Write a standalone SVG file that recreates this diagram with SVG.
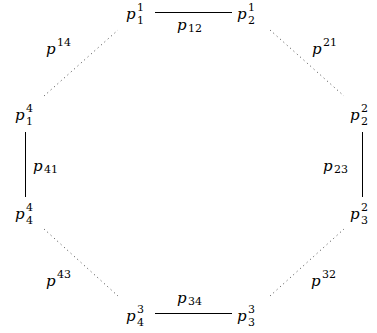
<svg xmlns="http://www.w3.org/2000/svg" width="377" height="333" viewBox="0 0 377 333">
<style>
.m{font-family:"DejaVu Serif","Liberation Serif",serif;font-style:italic;font-size:15px;fill:#000}
.s{font-family:"DejaVu Serif","Liberation Serif",serif;font-size:11px;fill:#000}
.solid{stroke:#000;stroke-width:1;fill:none}
.dot{stroke:#444;stroke-width:1;stroke-dasharray:1 3.5;fill:none}
</style>
<rect width="377" height="333" fill="#fff"/>
<g id="connectors">
<line class="solid" x1="155" y1="12.5" x2="232" y2="12.5"/>
<line class="solid" x1="155" y1="313.5" x2="232" y2="313.5"/>
<line class="solid" x1="25.5" y1="132" x2="25.5" y2="197"/>
<line class="solid" x1="362.5" y1="132" x2="362.5" y2="197"/>
<line class="dot" x1="44" y1="96" x2="118" y2="30"/>
<line class="dot" x1="270" y1="30" x2="344" y2="96"/>
<line class="dot" x1="270" y1="296" x2="344" y2="229"/>
<line class="dot" x1="44" y1="229" x2="118" y2="296"/>
<g id="l12"><text class="m" x="177" y="30">p</text><text class="s" x="188" y="32">12</text></g>
<g id="l34"><text class="m" x="177" y="303">p</text><text class="s" x="188" y="305">34</text></g>
<g id="l41"><text class="m" x="33" y="171">p</text><text class="s" x="44" y="173">41</text></g>
<g id="l23"><text class="m" x="323" y="171">p</text><text class="s" x="334" y="173">23</text></g>
<g id="l14"><text class="m" x="46" y="54">p</text><text class="s" x="57" y="46">14</text></g>
<g id="l21"><text class="m" x="312" y="54">p</text><text class="s" x="323" y="46">21</text></g>
<g id="l43"><text class="m" x="46" y="286">p</text><text class="s" x="57" y="278">43</text></g>
<g id="l32"><text class="m" x="311" y="286">p</text><text class="s" x="322" y="278">32</text></g>
</g>
<g id="p11"><text class="m" x="126" y="19">p</text><text class="s" x="137" y="11">1</text><text class="s" x="137" y="24">1</text></g>
<g id="p21"><text class="m" x="237" y="19">p</text><text class="s" x="248" y="11">1</text><text class="s" x="248" y="24">2</text></g>
<g id="p22"><text class="m" x="350" y="120">p</text><text class="s" x="361" y="112">2</text><text class="s" x="361" y="125">2</text></g>
<g id="p32"><text class="m" x="350" y="219">p</text><text class="s" x="361" y="211">2</text><text class="s" x="361" y="224">3</text></g>
<g id="p33"><text class="m" x="237" y="321">p</text><text class="s" x="248" y="313">3</text><text class="s" x="248" y="326">3</text></g>
<g id="p43"><text class="m" x="126" y="321">p</text><text class="s" x="137" y="313">3</text><text class="s" x="137" y="326">4</text></g>
<g id="p44"><text class="m" x="15" y="219">p</text><text class="s" x="26" y="211">4</text><text class="s" x="26" y="224">4</text></g>
<g id="p14"><text class="m" x="15" y="120">p</text><text class="s" x="26" y="112">4</text><text class="s" x="26" y="125">1</text></g>
</svg>
